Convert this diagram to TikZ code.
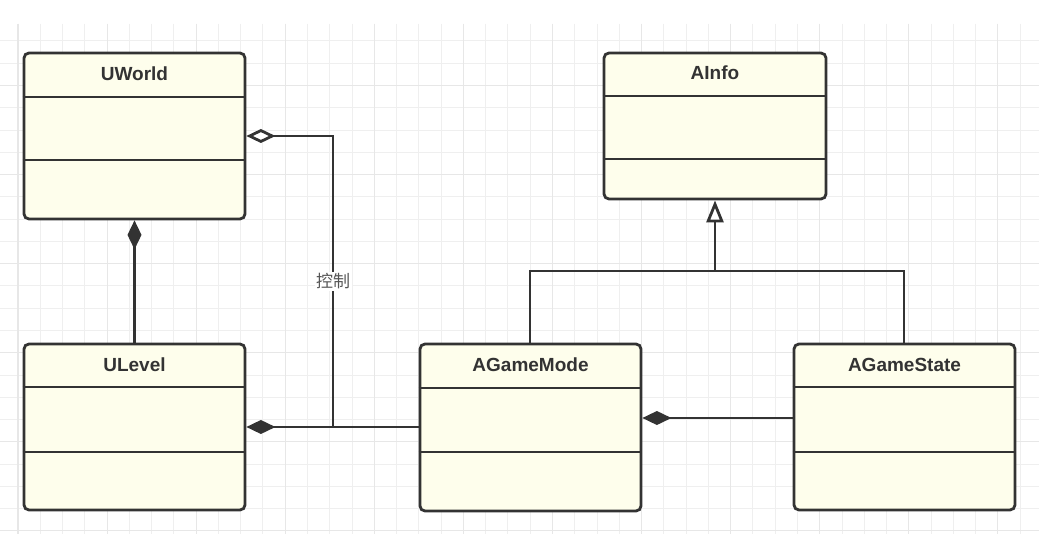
\documentclass[tikz,border=0pt]{standalone}
\usepackage{fontspec}
\setmainfont{Liberation Sans}
\newfontfamily\cjk{Noto Sans CJK SC}
\usetikzlibrary{arrows.meta}
\definecolor{boxfill}{HTML}{FEFEEC}
\definecolor{ink}{HTML}{333333}
\definecolor{gridminor}{HTML}{EFEFEF}
\definecolor{gridmajor}{HTML}{E7E7E7}
\definecolor{labelink}{HTML}{555555}
\begin{document}
\begin{tikzpicture}[x=1pt,y=-1pt,
  classbox/.style={draw=ink, fill=boxfill, line width=2.8pt, rounded corners=5pt, inner sep=0pt},
  classtitle/.style={font=\bfseries\fontsize{19}{22}\selectfont, text=ink, inner sep=0pt},
  divider/.style={draw=ink, line width=2.6pt},
  conn/.style={draw=ink, line width=2.8pt},
  gline/.style={draw=gridminor, line width=1pt},
  gmaj/.style={draw=gridmajor, line width=1.1pt},
  lbl/.style={font=\cjk\fontsize{17}{20}\selectfont, text=labelink, fill=white, inner sep=1.5pt}
]
\useasboundingbox (0,0) rectangle (1048,534);
\fill[white] (0,0) rectangle (1048,534);
% grid
\begin{scope}
\clip (0,24) rectangle (1039,534);
\foreach \k in {0,...,46} \draw[gline] ({18+22.27*\k},24) -- ({18+22.27*\k},534);
\foreach \k in {0,...,22} \draw[gline] (0,{41+22.27*\k}) -- (1039,{41+22.27*\k});
\foreach \k in {0,4,...,44} \draw[gmaj] ({18+22.27*\k},24) -- ({18+22.27*\k},534);
\foreach \k in {2,6,...,22} \draw[gmaj] (0,{41+22.27*\k}) -- (1039,{41+22.27*\k});
\end{scope}

% class boxes
\node[classbox, minimum width=221pt, minimum height=166pt] (uworld) at (134.5,136) {};
\draw[divider] (uworld.west |- 0,97) -- (uworld.east |- 0,97);
\draw[divider] (uworld.west |- 0,160) -- (uworld.east |- 0,160);
\node[classtitle] (uworldT) at (134.5,74) {UWorld};

\node[classbox, minimum width=221pt, minimum height=166pt] (ulevel) at (134.5,427) {};
\draw[divider] (ulevel.west |- 0,387) -- (ulevel.east |- 0,387);
\draw[divider] (ulevel.west |- 0,452) -- (ulevel.east |- 0,452);
\node[classtitle] (ulevelT) at (134.5,365) {ULevel};

\node[classbox, minimum width=222pt, minimum height=146pt] (ainfo) at (715,126) {};
\draw[divider] (ainfo.west |- 0,96) -- (ainfo.east |- 0,96);
\draw[divider] (ainfo.west |- 0,159) -- (ainfo.east |- 0,159);
\node[classtitle] (ainfoT) at (715,73) {AInfo};

\node[classbox, minimum width=221pt, minimum height=167pt] (agm) at (530.5,427.5) {};
\draw[divider] (agm.west |- 0,388) -- (agm.east |- 0,388);
\draw[divider] (agm.west |- 0,452) -- (agm.east |- 0,452);
\node[classtitle] (agmT) at (530.5,365) {AGameMode};

\node[classbox, minimum width=221pt, minimum height=166pt] (ags) at (904.5,427) {};
\draw[divider] (ags.west |- 0,387) -- (ags.east |- 0,387);
\draw[divider] (ags.west |- 0,452) -- (ags.east |- 0,452);
\node[classtitle] (agsT) at (904.5,365) {AGameState};

% connectors
\coordinate (ctrl) at (333,427);
\coordinate (junc) at (715,271);
\draw[conn, {Diamond[length=29pt,width=14pt,fill=ink]}-] (uworld.south) -- (ulevel.north);
\draw[conn, {Diamond[length=29pt,width=14pt,fill=ink]}-] (ulevel.east |- 0,427) -- (agm.west |- 0,427);
\draw[conn, {Diamond[open,length=29pt,width=14pt,fill=white]}-] (uworld.east |- 0,136) -| (ctrl) node[lbl, pos=0.75] (ctrlT) {控制};
\draw[conn, -{Diamond[length=29pt,width=14pt,fill=ink]}] (ags.west |- 0,418) -- (agm.east |- 0,418);
\draw[conn] (agm.north -| 530,0) |- (junc);
\draw[conn] (ags.north -| 904,0) |- (junc);
\draw[conn, -{Triangle[open,length=22pt,width=17pt,fill=white]}] (junc) -- (ainfo.south -| junc);
\end{tikzpicture}
\end{document}
